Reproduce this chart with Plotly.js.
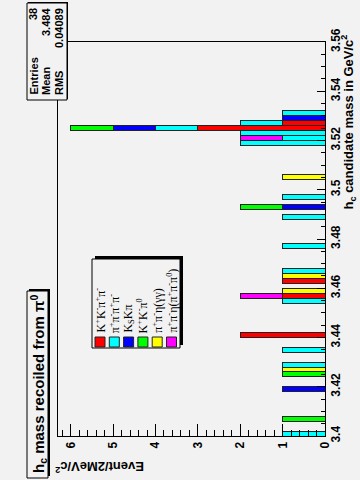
<!DOCTYPE html>
<html>
<head>
<meta charset="utf-8">
<script src="https://cdn.plot.ly/plotly-3.0.1.min.js"></script>
<style>body{margin:0;background:#f2f2f2}</style>
</head>
<body>
<div id="chart" style="width:360px;height:480px"></div>
<script>
// bin centres (GeV/c^2, 2 MeV bins) and entries for each decay channel
var kkpipiMass = [3.441, 3.457, 3.463, 3.525, 3.527];
var kkpipiN = [2, 1, 1, 3, 1];
var fourpiMass = [3.401, 3.429, 3.435, 3.455, 3.467, 3.477, 3.489, 3.497, 3.519, 3.521, 3.523, 3.525, 3.527, 3.531];
var fourpiN = [1, 1, 1, 1, 1, 1, 1, 1, 2, 1, 2, 1, 1, 1];
var kskpiMass = [3.419, 3.493, 3.525, 3.529];
var kskpiN = [1, 1, 1, 1];
var kkpi0Mass = [3.407, 3.425, 3.493, 3.525];
var kkpi0N = [1, 1, 1, 1];
var pipietaggMass = [3.427, 3.459, 3.465, 3.505];
var pipietaggN = [1, 1, 1, 1];
var pipieta3piMass = [3.457, 3.521];
var pipieta3piN = [1, 1];

var channelNames = [
  'K<sup>+</sup>K<sup>-</sup>π<sup>+</sup>π<sup>-</sup>',
  'π<sup>+</sup>π<sup>-</sup>π<sup>+</sup>π<sup>-</sup>',
  'K<sub>S</sub>Kπ',
  'K<sup>+</sup>K<sup>-</sup>π<sup>0</sup>',
  'π<sup>+</sup>π<sup>-</sup>η(γγ)',
  'π<sup>+</sup>π<sup>-</sup>η(π<sup>+</sup>π<sup>-</sup>π<sup>0</sup>)'
];
var channelColors = ['#ff0000', '#00ffff', '#0000ff', '#00ff00', '#ffff00', '#ff00ff'];

var statLabels = ['Entries', 'Mean', 'RMS'];
var statValues = ['38', '3.484', '0.04089'];

var masses = [kkpipiMass, fourpiMass, kskpiMass, kkpi0Mass, pipietaggMass, pipieta3piMass];
var counts = [kkpipiN, fourpiN, kskpiN, kkpi0N, pipietaggN, pipieta3piN];

var bg = '#f2f2f2';
var sans = 'Liberation Sans, Arial, sans-serif';
var serif = 'Liberation Serif, Times New Roman, serif';

// pixel -> paper coordinates (plot area 58..325 x 42..436)
function px(x) { return (x - 58) / 267; }
function py(y) { return (436 - y) / 394; }

var data = [];
for (var i = 0; i < masses.length; i++) {
  data.push({
    type: 'bar',
    orientation: 'h',
    y: masses[i],
    x: counts[i],
    width: 0.002,
    marker: { color: channelColors[i], line: { color: '#222', width: 1 } },
    hoverinfo: 'skip'
  });
}

var shapes = [];
var annotations = [];

function boxWithShadow(x0, y0, x1, y1, s) {
  shapes.push({ type: 'rect', xref: 'paper', yref: 'paper',
    x0: px(x0 + s), x1: px(x1 + s), y0: py(y0 - s), y1: py(y1 - s),
    fillcolor: '#000', line: { width: 0 } });
  shapes.push({ type: 'rect', xref: 'paper', yref: 'paper',
    x0: px(x0), x1: px(x1), y0: py(y0), y1: py(y1),
    fillcolor: bg, line: { color: '#000', width: 1 } });
}

// title box
boxWithShadow(27, 291, 48, 478, 2);
annotations.push({ xref: 'paper', yref: 'paper', x: px(38), y: py(384),
  text: 'h<sub>c</sub> mass recoiled from π<sup>0</sup>', textangle: -90,
  showarrow: false, xanchor: 'center', yanchor: 'middle',
  font: { family: sans, size: 15, weight: 'bold', color: '#000' } });

// stats box
boxWithShadow(27, 3, 67, 100, 1);
for (var k = 0; k < statLabels.length; k++) {
  var cx = 33 + 13 * k;
  annotations.push({ xref: 'paper', yref: 'paper', x: px(cx), y: py(97),
    text: statLabels[k], textangle: -90, showarrow: false,
    xanchor: 'center', yanchor: 'bottom',
    font: { family: sans, size: 11, weight: 'bold', color: '#000' } });
  annotations.push({ xref: 'paper', yref: 'paper', x: px(cx), y: py(6),
    text: statValues[k], textangle: -90, showarrow: false,
    xanchor: 'center', yanchor: 'top',
    font: { family: sans, size: 11, weight: 'bold', color: '#000' } });
}

// legend
boxWithShadow(92, 259, 180, 348, 3);
for (var j = 0; j < channelNames.length; j++) {
  var lx = 100 + 14.3 * j;
  shapes.push({ type: 'rect', xref: 'paper', yref: 'paper',
    x0: px(lx - 5), x1: px(lx + 5), y0: py(347), y1: py(337),
    fillcolor: channelColors[j], line: { color: '#222', width: 1 } });
  annotations.push({ xref: 'paper', yref: 'paper', x: px(lx), y: py(335),
    text: channelNames[j], textangle: -90, showarrow: false,
    xanchor: 'center', yanchor: 'bottom',
    font: { family: serif, size: 12, color: '#000' } });
}

// axis titles
annotations.push({ xref: 'paper', yref: 'paper', x: px(348), y: py(33),
  text: 'h<sub>c</sub> candidate mass in GeV/c<sup>2</sup>', textangle: -90,
  showarrow: false, xanchor: 'center', yanchor: 'top',
  font: { family: sans, size: 13, weight: 'bold', color: '#000' } });
annotations.push({ xref: 'paper', yref: 'paper', x: px(100), y: py(467),
  text: 'Event/2MeV/c<sup>2</sup>', textangle: 180,
  showarrow: false, xanchor: 'center', yanchor: 'middle',
  font: { family: sans, size: 13, weight: 'bold', color: '#000' } });

var layout = {
  width: 360,
  height: 480,
  paper_bgcolor: bg,
  plot_bgcolor: bg,
  margin: { l: 58, r: 35, t: 42, b: 44 },
  barmode: 'stack',
  bargap: 0,
  showlegend: false,
  xaxis: {
    range: [6.3, 0], tick0: 0, dtick: 1,
    ticks: 'inside', ticklen: 12, tickcolor: '#000',
    minor: { dtick: 0.2, ticks: 'inside', ticklen: 6, tickcolor: '#000', showgrid: false },
    showline: true, linecolor: '#000', mirror: true,
    showgrid: false, zeroline: false, tickangle: -90,
    tickfont: { family: sans, size: 12, weight: 'bold', color: '#000' }
  },
  yaxis: {
    range: [3.4, 3.56], side: 'right', tick0: 3.4, dtick: 0.02, tickformat: '.2~f',
    ticks: 'inside', ticklen: 8, tickcolor: '#000',
    minor: { dtick: 0.005, ticks: 'inside', ticklen: 4, tickcolor: '#000', showgrid: false },
    showline: true, linecolor: '#000', mirror: true,
    showgrid: false, zeroline: false, tickangle: -90,
    tickfont: { family: sans, size: 12, weight: 'bold', color: '#000' }
  },
  shapes: shapes,
  annotations: annotations
};

Plotly.newPlot('chart', data, layout, { displayModeBar: false, staticPlot: true });
</script>
</body>
</html>
